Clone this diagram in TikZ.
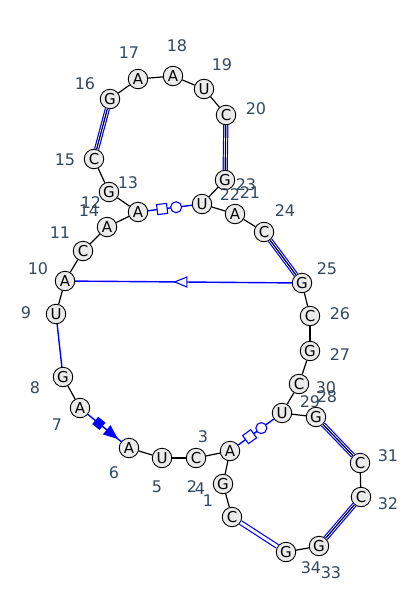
\documentclass[tikz,border=0pt]{standalone}
\usepackage{fontspec}
\setmainfont{DejaVu Sans}
\usepackage{tikz}
\usetikzlibrary{arrows,shapes.geometric}
\definecolor{numcol}{RGB}{52,73,94}

\begin{document}
\begin{tikzpicture}[x=1pt,y=-1pt,
  base/.style={circle, draw, fill=black!8, line width=0.9pt, inner sep=0pt, minimum size=19.5pt, font=\fontsize{15}{15}\selectfont},
  num/.style={text=numcol, inner sep=0pt, font=\fontsize{16}{16}\selectfont},
  bb/.style={line width=1.2pt},
  wc/.style={blue, line width=1.2pt, double=white, double distance=2.8pt},
  nc/.style={blue, line width=1.4pt},
  osq/.style={rectangle, draw=blue, fill=white, line width=1.1pt, minimum size=10pt, inner sep=0pt, sloped},
  ocirc/.style={circle, draw=blue, fill=white, line width=1.1pt, minimum size=11pt, inner sep=0pt},
  fsq/.style={rectangle, draw=blue, fill=blue, minimum size=8pt, inner sep=0pt, sloped},
  tri/.style={isosceles triangle, isosceles triangle apex angle=45, inner sep=0pt, minimum width=10pt, sloped}]
\useasboundingbox (0,0) rectangle (400,611);
%\draw [help lines] grid (400,611);
\node[base] (b1) at (232,517) {C};
\node[base] (b2) at (196,458) {C};
\node[base] (b3) at (230,451) {A};
\node[base] (b4) at (223,484) {G};
\node[base] (b5) at (162,458) {U};
\node[base] (b6) at (129,448) {A};
\node[base] (b7) at (80,408) {A};
\node[base] (b8) at (63,377) {G};
\node[base] (b9) at (56,314) {U};
\node[base] (b10) at (65,281) {A};
\node[base] (b11) at (83,251) {C};
\node[base] (b12) at (138,212) {A};
\node[base] (b13) at (109,192) {G};
\node[base] (b14) at (107,227) {A};
\node[base] (b15) at (94,159) {C};
\node[base] (b16) at (110,99) {G};
\node[base] (b17) at (138,79) {A};
\node[base] (b18) at (173,76) {A};
\node[base] (b19) at (204,89) {U};
\node[base] (b20) at (226,115) {C};
\node[base] (b21) at (235,214) {A};
\node[base] (b22) at (202,204) {U};
\node[base] (b23) at (225,180) {G};
\node[base] (b24) at (264,232) {C};
\node[base] (b25) at (302,283) {G};
\node[base] (b26) at (310,316) {C};
\node[base] (b27) at (310,351) {G};
\node[base] (b28) at (316,417) {G};
\node[base] (b29) at (282,413) {U};
\node[base] (b30) at (299,384) {C};
\node[base] (b31) at (360,463) {C};
\node[base] (b32) at (361,497) {C};
\node[base] (b33) at (319,546) {G};
\node[base] (b34) at (286,552) {G};

\node[num] (l2) at (192,487) {2};
\node[num] (l4) at (200,489) {4};
\node[num] (l1) at (208,501) {1};
\node[num] (l3) at (203,437) {3};
\node[num] (l5) at (157,487) {5};
\node[num] (l6) at (114,473) {6};
\node[num] (l7) at (57,425) {7};
\node[num] (l8) at (35,388) {8};
\node[num] (l9) at (26,313) {9};
\node[num] (l10) at (38,269) {10};
\node[num] (l11) at (60,233) {11};
\node[num] (l12) at (91,203) {12};
\node[num] (l14) at (89,211) {14};
\node[num] (l13) at (128,183) {13};
\node[num] (l15) at (65,160) {15};
\node[num] (l16) at (85,84) {16};
\node[num] (l17) at (129,53) {17};
\node[num] (l18) at (177,46) {18};
\node[num] (l19) at (222,65) {19};
\node[num] (l20) at (256,109) {20};
\node[num] (l23) at (246,185) {23};
\node[num] (l22) at (230,195) {22};
\node[num] (l21) at (250,193) {21};
\node[num] (l24) at (285,211) {24};
\node[num] (l25) at (327,269) {25};
\node[num] (l26) at (340,314) {26};
\node[num] (l27) at (340,355) {27};
\node[num] (l30) at (326,388) {30};
\node[num] (l28) at (327,397) {28};
\node[num] (l29) at (310,402) {29};
\node[num] (l31) at (388,456) {31};
\node[num] (l32) at (388,504) {32};
\node[num] (l34) at (311,568) {34};
\node[num] (l33) at (331,573) {33};

% backbone
\draw[bb] (b16) -- (b17);
\draw[bb] (b17) -- (b18);
\draw[bb] (b18) -- (b19);
\draw[bb] (b19) -- (b20);
\draw[bb] (b15) -- (b13);
\draw[bb] (b13) -- (b12);
\draw[bb] (b12) -- (b14);
\draw[bb] (b14) -- (b11);
\draw[bb] (b11) -- (b10);
\draw[bb] (b10) -- (b9);
\draw[bb] (b8) -- (b7);
\draw[bb] (b6) -- (b5);
\draw[bb] (b5) -- (b2);
\draw[bb] (b2) -- (b3);
\draw[bb] (b3) -- (b4);
\draw[bb] (b4) -- (b1);
\draw[bb] (b34) -- (b33);
\draw[bb] (b32) -- (b31);
\draw[bb] (b28) -- (b29);
\draw[bb] (b29) -- (b30);
\draw[bb] (b30) -- (b27);
\draw[bb] (b27) -- (b26);
\draw[bb] (b26) -- (b25);
\draw[bb] (b24) -- (b21);
\draw[bb] (b21) -- (b22);
\draw[bb] (b22) -- (b23);

% pairs
\draw[wc] (b16) -- (b15);
\draw[bb] (b16) -- (b15);
\draw[wc] (b20) -- (b23);
\draw[bb] (b20) -- (b23);
\draw[wc] (b24) -- (b25);
\draw[bb] (b24) -- (b25);
\draw[wc] (b33) -- (b32);
\draw[bb] (b33) -- (b32);
\draw[wc] (b31) -- (b28);
\draw[bb] (b31) -- (b28);
\draw[wc] (b1) -- (b34);
\draw[nc] (b9) -- (b8);
\draw[nc] (b12) -- node[osq, pos=0.32] (s1) {} node[ocirc, pos=0.64] (c1) {} (b22);
\draw[nc] (b3) -- node[osq, pos=0.32] (s2) {} node[ocirc, pos=0.65] (c2) {} (b29);
\draw[nc] (b7) -- node[fsq, pos=0.33] (s3) {} node[tri, fill=blue, draw=blue, pos=0.66] (t1) {} (b6);
\draw[nc] (b10) -- node[tri, shape border rotate=180, draw=blue, fill=white, line width=1.1pt, pos=0.5] (t2) {} (b25);

\end{tikzpicture}
\end{document}
